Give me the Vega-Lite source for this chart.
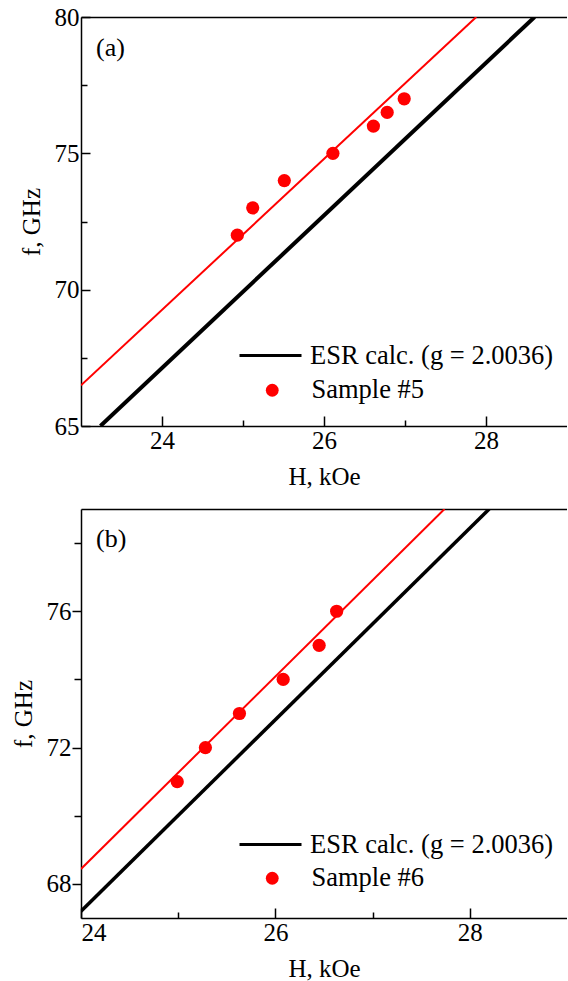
{
  "$schema": "https://vega.github.io/schema/vega-lite/v6.json",
  "padding": {"left": 11, "top": 5, "right": 0, "bottom": 0},
  "spacing": 20,
  "config": {
    "font": "Liberation Serif",
    "view": {"stroke": null},
    "axis": {
      "grid": false,
      "domainColor": "#000000",
      "domainWidth": 1.5,
      "tickColor": "#000000",
      "tickWidth": 1.5,
      "labelColor": "#000000",
      "titleColor": "#000000",
      "labelFont": "Liberation Serif",
      "titleFont": "Liberation Serif",
      "labelFontSize": 25,
      "titleFontSize": 25,
      "titleFontWeight": "normal"
    },
    "legend": {"labelFontSize": 26.5, "labelColor": "#000000", "labelFont": "Liberation Serif", "labelLimit": 500},
    "title": {"color": "#000000", "font": "Liberation Serif"}
  },
  "datasets": {
    "esrA": [
      {"H": 23.24, "f": 65, "series": "ESR calc. (g = 2.0036)"},
      {"H": 28.6, "f": 80, "series": "ESR calc. (g = 2.0036)"}
    ],
    "fitA": [
      {"H": 23.0, "f": 66.49},
      {"H": 27.88, "f": 80}
    ],
    "ptsA": [
      {"H": 24.93, "f": 72, "series": "Sample #5"},
      {"H": 25.12, "f": 73, "series": "Sample #5"},
      {"H": 25.51, "f": 74, "series": "Sample #5"},
      {"H": 26.11, "f": 75, "series": "Sample #5"},
      {"H": 26.61, "f": 76, "series": "Sample #5"},
      {"H": 26.78, "f": 76.5, "series": "Sample #5"},
      {"H": 26.99, "f": 77, "series": "Sample #5"}
    ],
    "esrB": [
      {"H": 24.0, "f": 67.2, "series": "ESR calc. (g = 2.0036)"},
      {"H": 28.2, "f": 79, "series": "ESR calc. (g = 2.0036)"}
    ],
    "fitB": [
      {"H": 24.0, "f": 68.44},
      {"H": 27.74, "f": 79}
    ],
    "ptsB": [
      {"H": 24.99, "f": 71, "series": "Sample #6"},
      {"H": 25.28, "f": 72, "series": "Sample #6"},
      {"H": 25.63, "f": 73, "series": "Sample #6"},
      {"H": 26.08, "f": 74, "series": "Sample #6"},
      {"H": 26.45, "f": 75, "series": "Sample #6"},
      {"H": 26.63, "f": 76, "series": "Sample #6"}
    ]
  },
  "resolve": {
    "scale": {"x": "independent", "y": "independent", "color": "independent", "fill": "independent"},
    "legend": {"color": "independent", "fill": "independent"}
  },
  "vconcat": [
    {
      "width": 486,
      "height": 409,
      "title": {"text": "(a)", "anchor": "start", "frame": "group", "baseline": "alphabetic", "fontSize": 26, "fontWeight": "normal", "offset": 0, "dx": 15, "dy": 77},
      "resolve": {"axis": {"x": "independent"}},
      "layer": [
        {
          "data": {"name": "esrA"},
          "mark": {"type": "line", "strokeWidth": 4, "clip": true},
          "encoding": {
            "x": {"field": "H", "type": "quantitative", "scale": {"domain": [23, 29], "nice": false, "zero": false},
              "axis": {"orient": "bottom", "title": "H, kOe", "values": [24, 25, 26, 27, 28],
                "labelExpr": "datum.value % 2 === 0 ? datum.label : ''",
                "tickSize": {"condition": {"test": "datum.value % 2 === 0", "value": -10}, "value": -6},
                "labelPadding": 12, "titlePadding": 11}},
            "y": {"field": "f", "type": "quantitative", "scale": {"domain": [65, 80], "nice": false, "zero": false},
              "axis": {"orient": "left", "title": "f, GHz", "values": [65, 67.5, 70, 72.5, 75, 77.5, 80],
                "labelExpr": "datum.value % 5 === 0 ? datum.label : ''",
                "tickSize": {"condition": {"test": "datum.value % 5 === 0", "value": -9}, "value": -6},
                "labelPadding": 11, "titlePadding": 10}},
            "color": {"field": "series", "type": "nominal",
              "scale": {"domain": ["ESR calc. (g = 2.0036)"], "range": ["#000000"]},
              "legend": {"title": null, "orient": "none", "legendX": 157, "legendY": 306, "padding": 0,
                "symbolType": "stroke", "symbolSize": 3844, "symbolStrokeWidth": 3, "labelOffset": 7, "labelLimit": 500}}
          }
        },
        {
          "data": {"name": "fitA"},
          "mark": {"type": "line", "color": "#ff0000", "strokeWidth": 2, "clip": true},
          "encoding": {
            "x": {"field": "H", "type": "quantitative", "axis": {"orient": "top", "title": null, "ticks": false, "labels": false, "domain": true}},
            "y": {"field": "f", "type": "quantitative"}
          }
        },
        {
          "data": {"name": "ptsA"},
          "mark": {"type": "point", "filled": true, "size": 175, "opacity": 1},
          "encoding": {
            "x": {"field": "H", "type": "quantitative", "axis": null},
            "y": {"field": "f", "type": "quantitative"},
            "fill": {"field": "series", "type": "nominal",
              "scale": {"domain": ["Sample #5"], "range": ["#ff0000"]},
              "legend": {"title": null, "orient": "none", "legendX": 178, "legendY": 360, "padding": 0,
                "symbolType": "circle", "symbolSize": 165, "labelOffset": 26, "labelLimit": 500}}
          }
        }
      ]
    },
    {
      "width": 486,
      "height": 409,
      "title": {"text": "(b)", "anchor": "start", "frame": "group", "baseline": "alphabetic", "fontSize": 26, "fontWeight": "normal", "offset": 0, "dx": 15, "dy": 64},
      "resolve": {"axis": {"x": "independent"}},
      "layer": [
        {
          "data": {"name": "esrB"},
          "mark": {"type": "line", "strokeWidth": 3.5, "clip": true},
          "encoding": {
            "x": {"field": "H", "type": "quantitative", "scale": {"domain": [24, 29], "nice": false, "zero": false},
              "axis": {"orient": "bottom", "title": "H, kOe", "values": [24, 25, 26, 27, 28],
                "labelExpr": "datum.value % 2 === 0 ? datum.label : ''",
                "tickSize": {"condition": {"test": "datum.value % 2 === 0", "value": -10}, "value": -6},
                "labelPadding": 12, "titlePadding": 11}},
            "y": {"field": "f", "type": "quantitative", "scale": {"domain": [67, 79], "nice": false, "zero": false},
              "axis": {"orient": "left", "title": "f, GHz", "values": [68, 70, 72, 74, 76, 78],
                "labelExpr": "datum.value % 4 === 0 ? datum.label : ''",
                "tickSize": {"condition": {"test": "datum.value % 4 === 0", "value": 9}, "value": 7},
                "labelPadding": 1, "titlePadding": 10}},
            "color": {"field": "series", "type": "nominal",
              "scale": {"domain": ["ESR calc. (g = 2.0036)"], "range": ["#000000"]},
              "legend": {"title": null, "orient": "none", "legendX": 157, "legendY": 303, "padding": 0,
                "symbolType": "stroke", "symbolSize": 3844, "symbolStrokeWidth": 3, "labelOffset": 7, "labelLimit": 500}}
          }
        },
        {
          "data": {"name": "fitB"},
          "mark": {"type": "line", "color": "#ff0000", "strokeWidth": 2, "clip": true},
          "encoding": {
            "x": {"field": "H", "type": "quantitative", "axis": {"orient": "top", "title": null, "ticks": false, "labels": false, "domain": true}},
            "y": {"field": "f", "type": "quantitative"}
          }
        },
        {
          "data": {"name": "ptsB"},
          "mark": {"type": "point", "filled": true, "size": 175, "opacity": 1},
          "encoding": {
            "x": {"field": "H", "type": "quantitative", "axis": null},
            "y": {"field": "f", "type": "quantitative"},
            "fill": {"field": "series", "type": "nominal",
              "scale": {"domain": ["Sample #6"], "range": ["#ff0000"]},
              "legend": {"title": null, "orient": "none", "legendX": 178, "legendY": 356, "padding": 0,
                "symbolType": "circle", "symbolSize": 165, "labelOffset": 26, "labelLimit": 500}}
          }
        }
      ]
    }
  ]
}
